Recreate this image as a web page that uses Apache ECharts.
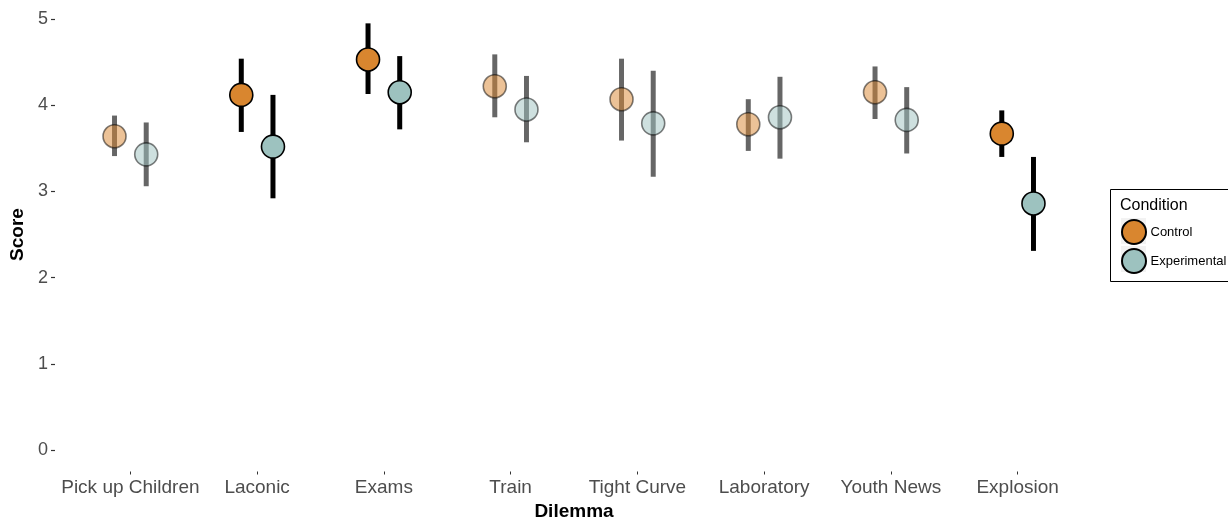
<!DOCTYPE html>
<html>
<head>
<meta charset="utf-8">
<script src="https://cdn.jsdelivr.net/npm/echarts@6/dist/echarts.min.js"></script>
<style>
  html, body { margin: 0; padding: 0; background: #fff; }
  #chart { width: 1228px; height: 519px; }
</style>
</head>
<body>
<div id="chart"></div>
<script>
// Mean scores with confidence intervals per dilemma and condition
const categories = ['Pick up Children', 'Laconic', 'Exams', 'Train', 'Tight Curve', 'Laboratory', 'Youth News', 'Explosion'];
const controlMean = [3.64, 4.12, 4.53, 4.22, 4.07, 3.78, 4.15, 3.67];
const controlLow  = [3.41, 3.69, 4.13, 3.86, 3.59, 3.47, 3.84, 3.40];
const controlHigh = [3.88, 4.54, 4.95, 4.59, 4.54, 4.07, 4.45, 3.94];
const expMean = [3.43, 3.52, 4.15, 3.95, 3.79, 3.86, 3.83, 2.86];
const expLow  = [3.06, 2.92, 3.72, 3.57, 3.17, 3.38, 3.44, 2.31];
const expHigh = [3.80, 4.12, 4.57, 4.34, 4.40, 4.33, 4.21, 3.40];
// Dilemmas with a significant difference are drawn fully opaque
const significant = [false, true, true, false, false, false, false, true];
const yTicks = [0, 1, 2, 3, 4, 5];
// Score range padded by 5% on each side
const yMin = -0.25;
const yMax = 5.25;

const FONT = '"Liberation Sans", Arial, sans-serif';
const CONTROL_COLOR = '#D9862F';
const EXP_COLOR = '#9DC2BF';

function rows(mean, low, high) {
  return categories.map((c, i) => [i, mean[i], low[i], high[i], significant[i] ? 1 : 0]);
}

function hexToRgba(hex, a) {
  const n = parseInt(hex.slice(1), 16);
  return 'rgba(' + ((n >> 16) & 255) + ',' + ((n >> 8) & 255) + ',' + (n & 255) + ',' + a + ')';
}

// Dodged point + error bar; shift is a fraction of the category band width
function makeRenderer(shift, color) {
  return function (params, api) {
    const idx = api.value(0);
    const sig = api.value(4) === 1;
    const band = api.size([1, 0])[0];
    const mid = api.coord([idx, api.value(1)]);
    const lo = api.coord([idx, api.value(2)]);
    const hi = api.coord([idx, api.value(3)]);
    const x = mid[0] + shift * band;
    return {
      type: 'group',
      children: [
        {
          type: 'line',
          shape: { x1: x, y1: lo[1], x2: x, y2: hi[1] },
          style: { stroke: sig ? '#000' : 'rgba(0,0,0,0.6)', lineWidth: 5 }
        },
        {
          type: 'circle',
          shape: { cx: x, cy: mid[1], r: 11.5 },
          style: {
            fill: sig ? color : hexToRgba(color, 0.5),
            stroke: sig ? '#000' : 'rgba(0,0,0,0.5)',
            lineWidth: 1.6
          }
        }
      ]
    };
  };
}

const chart = echarts.init(document.getElementById('chart'), null, { renderer: 'canvas' });

chart.setOption({
  backgroundColor: '#fff',
  animation: false,
  textStyle: { fontFamily: FONT },
  grid: { left: 67, right: 147, top: -2.5, bottom: 47.5, containLabel: false, outerBoundsMode: 'none' },
  xAxis: {
    type: 'category',
    data: categories,
    boundaryGap: true,
    name: 'Dilemma',
    nameLocation: 'middle',
    nameGap: 31,
    nameTextStyle: { fontFamily: FONT, fontSize: 19, fontWeight: 'bold', color: '#000' },
    axisLine: { show: false, onZero: false },
    axisTick: { show: true, alignWithLabel: true, interval: 0, length: 3, lineStyle: { color: '#333', width: 1 } },
    axisLabel: { fontFamily: FONT, fontSize: 19, color: '#4D4D4D', margin: 7, interval: 0, hideOverlap: false },
    splitLine: { show: false }
  },
  yAxis: {
    type: 'value',
    min: yMin,
    max: yMax,
    offset: 12,
    name: 'Score',
    nameLocation: 'middle',
    nameRotate: 90,
    nameGap: 19,
    nameTextStyle: { fontFamily: FONT, fontSize: 19, fontWeight: 'bold', color: '#000' },
    axisLine: { show: false, onZero: false },
    axisTick: { show: true, length: 4, customValues: yTicks, lineStyle: { color: '#333', width: 1.2 } },
    axisLabel: { fontFamily: FONT, fontSize: 18, color: '#4D4D4D', margin: 7, customValues: yTicks },
    splitLine: { show: false }
  },
  legend: {
    data: ['Control', 'Experimental'],
    orient: 'vertical',
    left: 1121,
    top: 219,
    padding: 0,
    itemWidth: 25,
    itemHeight: 24,
    itemGap: 3,
    icon: 'circle',
    textStyle: { fontFamily: FONT, fontSize: 13, color: '#000', padding: [0, 0, 0, -1] },
    z: 10
  },
  graphic: [
    {
      type: 'rect',
      shape: { x: 1110.5, y: 189.5, width: 130, height: 92 },
      style: { fill: 'none', stroke: '#000', lineWidth: 1 },
      z: 1
    },
    {
      type: 'rect',
      shape: { x: 1121, y: 218, width: 25, height: 26 },
      style: { fill: '#F2F2F2' },
      z: 1
    },
    {
      type: 'rect',
      shape: { x: 1121, y: 246, width: 25, height: 26 },
      style: { fill: '#F2F2F2' },
      z: 1
    },
    {
      type: 'text',
      left: 1120,
      top: 198,
      style: { text: 'Condition', font: '16px ' + FONT, fill: '#000' },
      z: 2
    }
  ],
  series: [
    {
      name: 'Control',
      type: 'custom',
      renderItem: makeRenderer(-0.125, CONTROL_COLOR),
      itemStyle: { color: CONTROL_COLOR, borderColor: '#000', borderWidth: 1.5 },
      encode: { x: 0, y: [1, 2, 3] },
      data: rows(controlMean, controlLow, controlHigh),
      z: 3
    },
    {
      name: 'Experimental',
      type: 'custom',
      renderItem: makeRenderer(0.125, EXP_COLOR),
      itemStyle: { color: EXP_COLOR, borderColor: '#000', borderWidth: 1.5 },
      encode: { x: 0, y: [1, 2, 3] },
      data: rows(expMean, expLow, expHigh),
      z: 3
    }
  ]
});
</script>
</body>
</html>
